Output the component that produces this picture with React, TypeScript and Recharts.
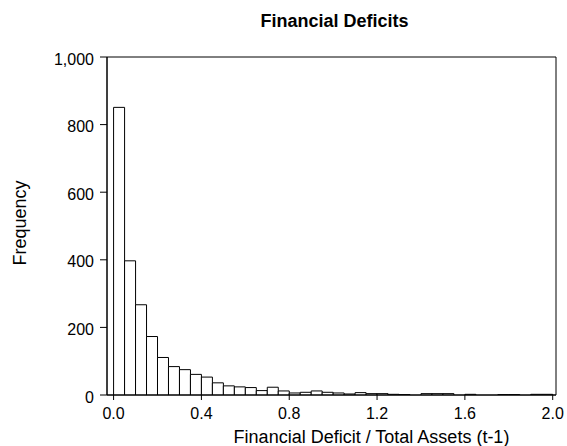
import React from 'react';
import { ComposedChart, Bar, XAxis, YAxis, ReferenceArea, Label } from 'recharts';

const binCenters: number[] = [
  0.025, 0.075, 0.125, 0.175, 0.225, 0.275, 0.325, 0.375, 0.425, 0.475,
  0.525, 0.575, 0.625, 0.675, 0.725, 0.775, 0.825, 0.875, 0.925, 0.975,
  1.025, 1.075, 1.125, 1.175, 1.225, 1.275, 1.325, 1.375, 1.425, 1.475,
  1.525, 1.575, 1.625, 1.675, 1.725, 1.775, 1.825, 1.875, 1.925, 1.975,
];
const frequencies: number[] = [
  851, 397, 267, 173, 111, 84, 75, 61, 53, 36,
  27, 24, 22, 13, 23, 12, 6, 8, 12, 8,
  6, 3, 7, 4, 4, 2, 1, 0, 4, 4,
  4, 0, 2, 0, 0, 1, 1, 0, 2, 2,
];
const xTicks: number[] = [0, 0.4, 0.8, 1.2, 1.6, 2.0];
const yTicks: number[] = [0, 200, 400, 600, 800, 1000];
const xDomain: [number, number] = [-0.03, 2.015];
const yDomain: [number, number] = [0, 1000];

const data = binCenters.map((x, i) => ({ x, count: frequencies[i] }));

const FONT = 'Liberation Sans, Arial, sans-serif';

export default function App() {
  return (
    <div style={{ position: 'absolute', left: 0, top: 0, width: 567, height: 446, background: '#fff' }}>
      <ComposedChart
        width={567}
        height={446}
        data={data}
        margin={{ top: 57, right: 11, bottom: 0, left: 0 }}
        barCategoryGap={0}
        barGap={0}
        style={{ fontFamily: FONT }}
      >
        <XAxis
          dataKey="x"
          type="number"
          domain={xDomain}
          ticks={xTicks}
          allowDataOverflow
          tickFormatter={(v: number) => v.toFixed(1)}
          tickSize={5}
          tickMargin={8}
          height={51}
          stroke="#000"
          tick={{ fill: '#000', fontSize: 16 }}
          interval={0}
        >
          <Label
            content={({ viewBox }: any) => (
              <text x={viewBox.x + viewBox.width / 2 + 40} y={viewBox.y + 48} textAnchor="middle" fontSize={18} fill="#000" fontFamily={FONT}>
                Financial Deficit / Total Assets (t-1)
              </text>
            )}
          />
        </XAxis>
        <YAxis
          type="number"
          domain={yDomain}
          ticks={yTicks}
          allowDataOverflow
          tickFormatter={(v: number) => v.toLocaleString('en-US')}
          tickSize={7}
          tickMargin={6}
          width={107}
          stroke="#000"
          tick={{ fill: '#000', fontSize: 16, dy: 2 }}
          interval={0}
        >
          <Label
            content={({ viewBox }: any) => {
              const cx = 26;
              const cy = viewBox.y + viewBox.height / 2 - 3;
              return (
                <text x={cx} y={cy} transform={`rotate(-90, ${cx}, ${cy})`} textAnchor="middle" fontSize={18} fill="#000" fontFamily={FONT}>
                  Frequency
                </text>
              );
            }}
          />
        </YAxis>
        <ReferenceArea
          x1={xDomain[0]}
          x2={xDomain[1]}
          y1={yDomain[0]}
          y2={yDomain[1]}
          fill="none"
          fillOpacity={0}
          stroke="#000"
          strokeWidth={1}
          ifOverflow="visible"
          label={({ viewBox }: any) => (
            <text x={viewBox.x + viewBox.width / 2 + 3} y={27} textAnchor="middle" fontSize={18} fontWeight="bold" fill="#000" fontFamily={FONT}>
              Financial Deficits
            </text>
          )}
        />
        <Bar dataKey="count" fill="#fff" stroke="#000" strokeWidth={1} isAnimationActive={false} />
      </ComposedChart>
    </div>
  );
}
